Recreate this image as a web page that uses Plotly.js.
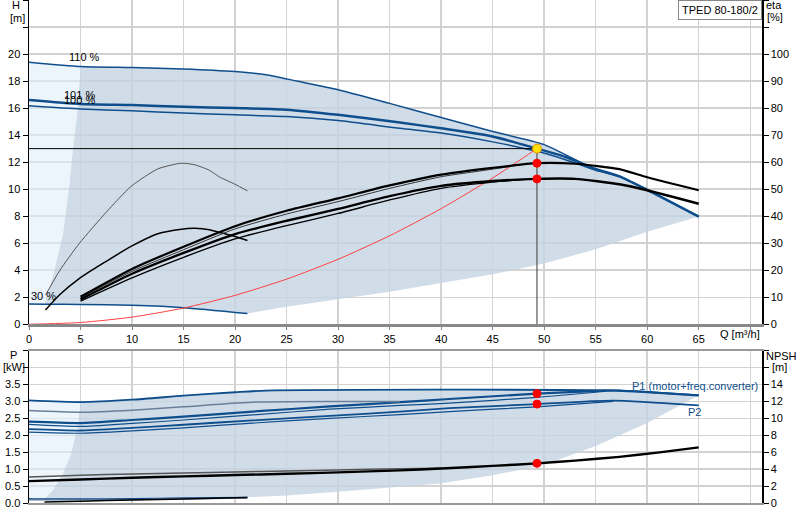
<!DOCTYPE html>
<html>
<head>
<meta charset="utf-8">
<script src="https://cdn.plot.ly/plotly-3.0.1.min.js"></script>
<style>
html, body { margin: 0; padding: 0; background: #fff; }
#chart { width: 800px; height: 520px; }
</style>
</head>
<body>
<div id="chart"></div>
<script>
// ---- top panel: head curves (H in m) ----
const q110 = [0, 5, 10, 15, 20, 23, 26, 30, 35, 40, 45, 50, 55, 57.3, 60, 65];
const h110 = [19.4, 19.08, 19.0, 18.9, 18.7, 18.47, 18.0, 17.36, 16.35, 15.3, 14.27, 13.3, 11.45, 10.95, 9.95, 7.97];
const qHead = [0, 5, 10, 15, 20, 25, 30, 36, 40, 45, 49.3, 52, 55, 57.3, 60, 65];
const h101 = [16.6, 16.3, 16.22, 16.1, 16.0, 15.88, 15.5, 14.93, 14.5, 13.9, 13.0, 12.4, 11.5, 10.95, 9.95, 7.97];
const h100 = [16.17, 15.93, 15.8, 15.63, 15.5, 15.38, 15.08, 14.5, 14.15, 13.5, 12.8, 12.2, 11.4, 10.95, 9.95, 7.97];
const q30 = [0, 1.5, 5, 10, 15, 21.2];
const h30 = [1.5, 1.49, 1.47, 1.4, 1.23, 0.8];

// edges of the shaded operating range
const edgeQ = [1.5, 2.3, 3.3, 3.93, 4.25, 4.74, 5];
const edgeH = [1.45, 3.5, 6.7, 10.4, 12.9, 16.0, 19.08];
const lowQ = [21.2, 25, 30, 35, 40, 45, 50, 55, 60, 65];
const lowH = [0.8, 1.3, 1.85, 2.4, 3.05, 3.7, 4.5, 5.55, 6.85, 7.97];

// system curve and duty point
const qSys = [0, 5, 10, 15, 20, 25, 30, 35, 40, 45, 49.3];
const hSys = [0, 0.13, 0.53, 1.2, 2.14, 3.34, 4.81, 6.55, 8.56, 10.83, 13.0];
const dutyQ = 49.3;
const dutyH = 13.0;
const dutyEta = [59.6, 53.8];
const dutyP = [3.23, 2.92];
const dutyNpsh = 4.68;

// efficiency curves (eta in %)
const qEta = [5, 10, 15, 20, 25, 30, 35, 40, 45, 49.3, 53, 57.3, 60, 65];
const etaA = [10.2, 20.5, 28.7, 36.3, 42.0, 46.6, 51.4, 55.4, 57.9, 59.6, 59.4, 57.4, 54.4, 49.6];
const etaB = [9.2, 18.7, 26.4, 33.4, 38.3, 42.7, 47.4, 51.2, 53.0, 53.8, 53.8, 51.8, 49.6, 44.6];
const qEtaThin = [5, 10, 15, 20, 25, 30, 35, 40, 45, 48];
const etaA2 = [9.8, 19.6, 27.6, 35.3, 40.8, 45.4, 50.3, 54.6, 57.4, 59.2];
const etaB2 = [8.6, 17.2, 24.8, 31.6, 36.5, 41.0, 46.0, 50.3, 52.6, 53.5];
const qLow = [1.6, 3, 4.9, 7.5, 9.9, 12.5, 14.8, 16.1, 17.5, 18.5, 20, 21.2];
const etaLowPump = [10.8, 20, 30, 41.5, 51, 57.5, 59.6, 59, 57, 54.5, 51.8, 49.4];
const etaLowTot = [5.3, 11, 17, 23.3, 28.8, 33.5, 35.2, 35.5, 35, 34, 32.5, 31];

// ---- bottom panel: power (kW) and NPSH (m) ----
const qP110 = [0, 5, 10, 15, 20, 23, 57.3, 65];
const p1Max = [3.03, 2.98, 3.05, 3.17, 3.27, 3.32, 3.32, 3.18];
const qP2Max = [0, 5, 10, 15, 22, 30, 36];
const p2Max = [2.73, 2.68, 2.74, 2.84, 2.98, 3.0, 3.0];
const qPow = [0, 5, 10, 15, 21.7, 29.2, 36, 40.8, 49.3, 56, 57.3, 65];
const p1a = [2.40, 2.36, 2.45, 2.55, 2.70, 2.85, 2.98, 3.07, 3.23, 3.32, 3.32, 3.18];
const qPowB = [0, 5, 10, 15, 21.7, 29.2, 36, 40.8, 49.3, 56];
const p1b = [2.32, 2.26, 2.35, 2.45, 2.60, 2.77, 2.88, 2.95, 3.12, 3.3];
const qPow2 = [0, 5, 10, 15, 21.7, 29.2, 36, 40.8, 49.3, 56.7, 65];
const p2a = [2.18, 2.14, 2.22, 2.31, 2.44, 2.57, 2.70, 2.80, 2.92, 3.02, 2.88];
const qPow2B = [0, 5, 10, 15, 21.7, 29.2, 36, 40.8, 49.3, 56.7];
const p2b = [2.09, 2.06, 2.13, 2.22, 2.36, 2.50, 2.61, 2.70, 2.84, 3.0];
const qP30 = [0, 1.5, 5, 10, 15, 21.2];
const p1Low = [0.13, 0.12, 0.12, 0.13, 0.15, 0.17];
const p2Low = [0.09, 0.09, 0.09, 0.1, 0.12, 0.14];
const pEdgeQ = [1.5, 2.3, 3.3, 4.1, 4.7, 5];
const pEdgeP = [0.12, 0.38, 0.87, 1.47, 2.25, 2.98];
const pLowQ = [21.2, 25, 30, 36, 40, 45, 50, 55, 60, 65];
const pLowP = [0.17, 0.22, 0.33, 0.48, 0.58, 0.82, 1.12, 1.68, 2.36, 3.18];
const qNpsh = [0, 5, 10, 15, 20, 25, 30, 36, 40, 45, 49.3, 53, 57.3, 61, 65];
const npsh = [2.58, 2.78, 2.98, 3.15, 3.3, 3.45, 3.62, 3.85, 4.08, 4.38, 4.68, 5.0, 5.45, 5.95, 6.57];
const qNpsh2 = [0, 5, 10, 15, 20, 25, 30, 36, 40];
const npsh2 = [3.08, 3.28, 3.42, 3.55, 3.67, 3.78, 3.9, 4.05, 4.1];
const qNpshLow = [1.5, 5, 10, 15, 21.2];
const npshLow = [0.12, 0.22, 0.34, 0.46, 0.64];

const BLUE = '#0f4e8c';
const GREYBLUE = '#6a7f99';
const GRID = '#d2d2d2';
const DARK = 'rgba(196,211,226,0.8)';
const LIGHT = 'rgba(225,238,250,0.6)';
const FONT = 'Liberation Sans, Arial, sans-serif';

const traces = [];
function addLine(x, y, xa, ya, color, width, shape) {
    traces.push({x: x, y: y, xaxis: xa, yaxis: ya, type: 'scatter', mode: 'lines',
        line: {color: color, width: width, shape: shape || 'spline', smoothing: 0.6}, hoverinfo: 'skip'});
}
function addArea(x, y, xa, ya, color) {
    traces.push({x: x, y: y, xaxis: xa, yaxis: ya, type: 'scatter', mode: 'none',
        fill: 'toself', fillcolor: color, hoverinfo: 'skip'});
}
function addDots(x, y, xa, ya, color, size, border) {
    traces.push({x: x, y: y, xaxis: xa, yaxis: ya, type: 'scatter', mode: 'markers',
        marker: {color: color, size: size, line: {color: border, width: 1}}, hoverinfo: 'skip'});
}
const rev = a => a.slice().reverse();

// shaded areas, top
const i5 = q110.indexOf(5);
addArea(
    q110.slice(i5).concat(rev(lowQ), rev(q30.slice(1)), edgeQ),
    h110.slice(i5).concat(rev(lowH), rev(h30.slice(1)), edgeH), 'x', 'y', DARK);
addArea(
    q110.slice(0, i5 + 1).concat(rev(edgeQ), [q30[1], q30[0]]),
    h110.slice(0, i5 + 1).concat(rev(edgeH), [h30[1], h30[0]]), 'x', 'y', LIGHT);

// head curves
addLine(q30, h30, 'x', 'y', BLUE, 1.5);
addLine(qHead, h100, 'x', 'y', BLUE, 1.5);
addLine(qHead, h101, 'x', 'y', BLUE, 2.5);
addLine(q110, h110, 'x', 'y', BLUE, 1.5);
addLine(qSys, hSys, 'x', 'y', '#ff4040', 1);
addLine([0, dutyQ], [dutyH, dutyH], 'x', 'y', '#000', 1, 'linear');
addLine([dutyQ, dutyQ], [0, dutyH], 'x', 'y', '#555', 1.2, 'linear');

// efficiency curves
addLine(qLow, etaLowPump, 'x', 'y2', '#555', 1);
addLine(qLow, etaLowTot, 'x', 'y2', '#000', 1.5);
addLine(qEtaThin, etaA2, 'x', 'y2', '#333', 1);
addLine(qEta, etaA, 'x', 'y2', '#000', 2.2);
addLine(qEtaThin, etaB2, 'x', 'y2', '#000', 1.3);
addLine(qEta, etaB, 'x', 'y2', '#000', 2.4);
addDots([dutyQ, dutyQ], dutyEta, 'x', 'y2', '#ff0000', 8, '#ff0000');
addDots([dutyQ], [dutyH], 'x', 'y', '#ffe000', 9, '#e09000');

// shaded areas, bottom
const j5 = qP110.indexOf(5);
addArea(
    qP110.slice(j5).concat(rev(pLowQ), rev(qP30.slice(1)), pEdgeQ),
    p1Max.slice(j5).concat(rev(pLowP), rev(p1Low.slice(1)), pEdgeP), 'x2', 'y3', DARK);
addArea(
    qP110.slice(0, j5 + 1).concat(rev(pEdgeQ), [qP30[1], qP30[0]]),
    p1Max.slice(0, j5 + 1).concat(rev(pEdgeP), [p1Low[1], p1Low[0]]), 'x2', 'y3', LIGHT);

// power curves
addLine(qP30, p2Low, 'x2', 'y3', GREYBLUE, 1.2);
addLine(qP30, p1Low, 'x2', 'y3', BLUE, 1.2);
addLine(qPow2B, p2b, 'x2', 'y3', BLUE, 1.2);
addLine(qPow2, p2a, 'x2', 'y3', BLUE, 1.8);
addLine(qPowB, p1b, 'x2', 'y3', BLUE, 1.2);
addLine(qPow, p1a, 'x2', 'y3', BLUE, 2.2);
addLine(qP2Max, p2Max, 'x2', 'y3', GREYBLUE, 1.5);
addLine(qP110, p1Max, 'x2', 'y3', BLUE, 1.8);
addDots([dutyQ, dutyQ], dutyP, 'x2', 'y3', '#ff0000', 8, '#ff0000');

// NPSH curves
addLine(qNpshLow, npshLow, 'x2', 'y4', '#000', 1.5);
addLine(qNpsh2, npsh2, 'x2', 'y4', '#555', 1.5);
addLine(qNpsh, npsh, 'x2', 'y4', '#000', 2.4);
addDots([dutyQ], [dutyNpsh], 'x2', 'y4', '#ff0000', 8, '#ff0000');

// axes
const qTicks = [0, 5, 10, 15, 20, 25, 30, 35, 40, 45, 50, 55, 60, 65, 70];
const hTicks = [0, 2, 4, 6, 8, 10, 12, 14, 16, 18, 20, 22, 24];
const etaTicks = [0, 10, 20, 30, 40, 50, 60, 70, 80, 90, 100, 110, 120];
const pTicks = [0, 0.5, 1, 1.5, 2, 2.5, 3, 3.5, 4, 4.5];
const npshTicks = [0, 2, 4, 6, 8, 10, 12, 14, 16, 18];

function labels(vals, maxShown, digits) {
    return vals.map(v => v > maxShown ? '' : v.toFixed(digits));
}

const tickFont = {family: FONT, size: 11, color: '#000'};
const yBase = {showline: true, linecolor: '#000', linewidth: 1.5, ticks: 'outside', ticklen: 5,
    tickcolor: '#000', tickfont: tickFont, zeroline: false, fixedrange: true};

function note(text, x, y, xref, yref, color) {
    return {text: text, x: x, y: y, xref: xref || 'paper', yref: yref || 'paper',
        xanchor: 'center', yanchor: 'middle', showarrow: false,
        font: {family: FONT, size: 11, color: color || '#000'}};
}

const layout = {
    width: 800, height: 520,
    margin: {l: 29, r: 38, t: 0, b: 17},
    paper_bgcolor: '#fff', plot_bgcolor: '#fff',
    showlegend: false,
    font: tickFont,
    xaxis: {domain: [0, 1], anchor: 'y', range: [0, 71.14], tickmode: 'array',
        tickvals: qTicks, ticktext: labels(qTicks, 65, 0), showgrid: true, gridcolor: GRID, gridwidth: 1.5,
        ticks: 'outside', ticklen: 3, tickcolor: '#888', showline: true, linecolor: '#888', linewidth: 2.5,
        zeroline: false, tickfont: tickFont},
    yaxis: Object.assign({}, yBase, {domain: [0.3553, 1], anchor: 'x', range: [0, 24], tickmode: 'array',
        tickvals: hTicks, ticktext: labels(hTicks, 20, 0), showgrid: true, gridcolor: GRID, gridwidth: 1.5}),
    yaxis2: Object.assign({}, yBase, {overlaying: 'y', side: 'right', anchor: 'x', range: [0, 120],
        tickmode: 'array', tickvals: etaTicks, ticktext: labels(etaTicks, 100, 0), showgrid: false}),
    xaxis2: {domain: [0, 1], anchor: 'y3', range: [0, 71.14], tickmode: 'array', tickvals: qTicks,
        showticklabels: false, showgrid: true, gridcolor: GRID, gridwidth: 1.5, ticks: '',
        showline: true, mirror: true, linecolor: '#999', linewidth: 1.5, zeroline: false},
    yaxis3: Object.assign({}, yBase, {domain: [0, 0.303], anchor: 'x2', range: [0, 4.5], tickmode: 'array',
        tickvals: pTicks, ticktext: labels(pTicks, 3.5, 1), showgrid: true, gridcolor: GRID, gridwidth: 1.5}),
    yaxis4: Object.assign({}, yBase, {overlaying: 'y3', side: 'right', anchor: 'x2', range: [0, 18],
        tickmode: 'array', tickvals: npshTicks, ticktext: labels(npshTicks, 14, 0), showgrid: false}),
    annotations: [
        note('H', -0.0173, 0.990),
        note('[m]', -0.016, 0.965),
        note('eta', 1.016, 0.990),
        note('[%]', 1.0177, 0.966),
        note('P', -0.0205, 0.294),
        note('[kW]', -0.0209, 0.271),
        note('NPSH', 1.026, 0.293),
        note('[m]', 1.0245, 0.270),
        note('Q [m³/h]', 0.970, 0.336),
        {text: 'TPED 80-180/2', xref: 'paper', yref: 'paper', x: 1, y: 1, xanchor: 'right', yanchor: 'top',
            showarrow: false, bgcolor: '#fff', bordercolor: '#888', borderwidth: 1, borderpad: 3,
            font: {family: FONT, size: 11, color: '#000'}},
        note('110 %', 5.4, 19.8, 'x', 'y'),
        note('101 %', 4.9, 17.0, 'x', 'y'),
        note('100 %', 4.9, 16.6, 'x', 'y'),
        note('30 %', 1.4, 2.1, 'x', 'y'),
        note('P1 (motor+freq.converter)', 64.6, 3.44, 'x2', 'y3', BLUE),
        note('P2', 64.6, 2.68, 'x2', 'y3', BLUE)
    ]
};

Plotly.newPlot('chart', traces, layout, {staticPlot: true, displayModeBar: false});
</script>
</body>
</html>
